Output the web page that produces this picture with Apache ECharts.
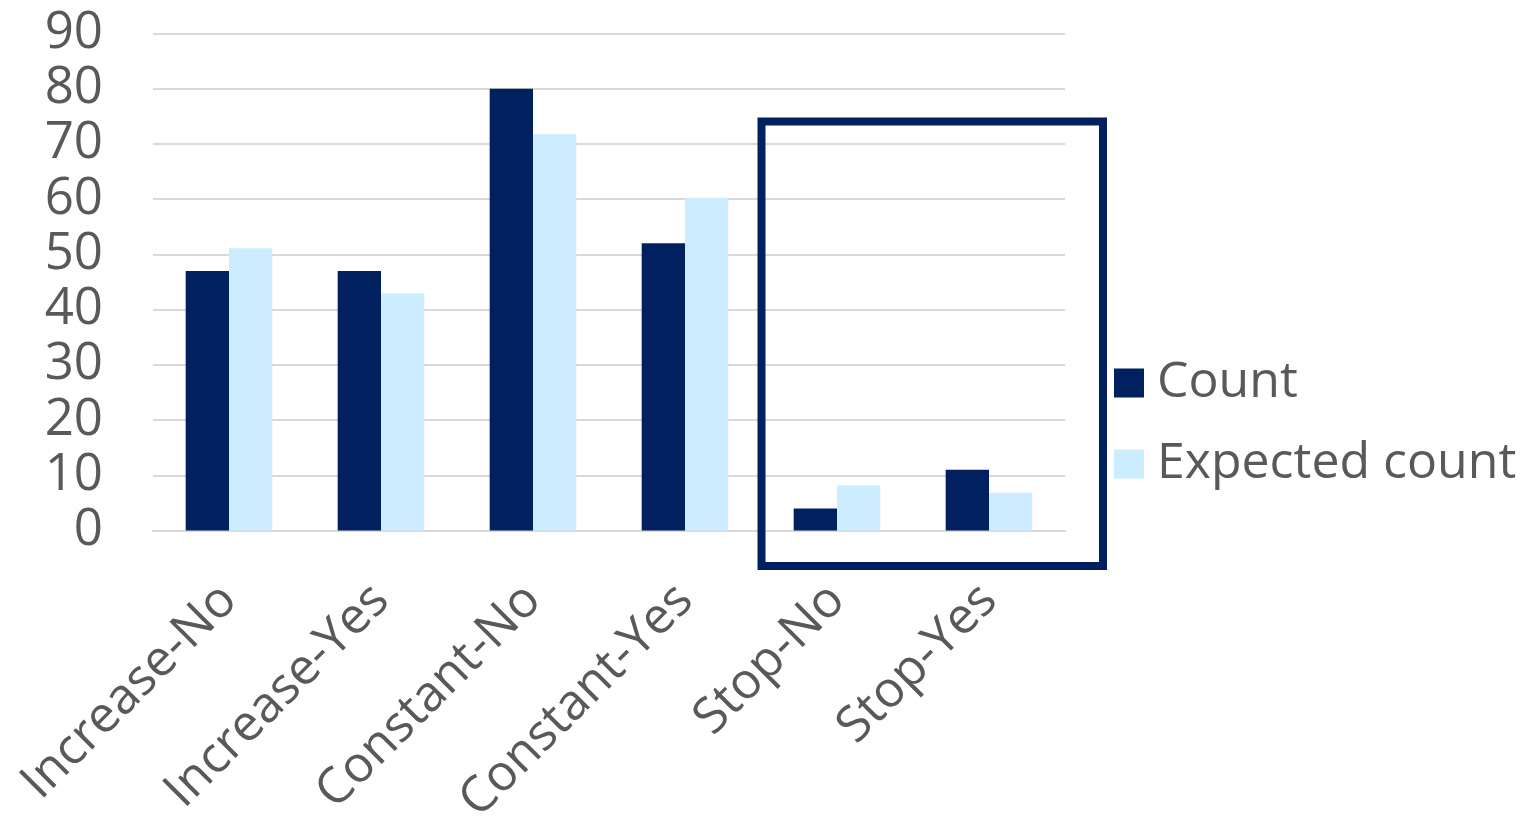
<!DOCTYPE html>
<html>
<head>
<meta charset="utf-8">
<script src="https://cdn.jsdelivr.net/npm/echarts@6/dist/echarts.min.js"></script>
<style>html,body{margin:0;padding:0;background:#fff;}#c{width:1525px;height:818px;}</style>
</head>
<body>
<div id="c"></div>
<script>
const categories = ['Increase-No','Increase-Yes','Constant-No','Constant-Yes','Stop-No','Stop-Yes'];
const countValues = [47, 47, 80, 52, 4, 11];
const expectedValues = [51.1, 42.9, 71.75, 60.25, 8.15, 6.85];
const yTicks = {min: 0, max: 90, interval: 10};

const chart = echarts.init(document.getElementById('c'), null, {renderer: 'canvas'});
const FONT = 'Open Sans';
const TXT = '#595959';
chart.setOption({
  animation: false,
  backgroundColor: '#ffffff',
  grid: {left: 153, right: 460, top: 33.5, bottom: 287.5, containLabel: false, outerBoundsMode: 'none'},
  legend: {
    orient: 'vertical',
    left: 1114, top: 358, padding: 0,
    itemWidth: 30, itemHeight: 29, itemGap: 31,
    icon: 'rect',
    textStyle: {fontFamily: FONT, fontSize: 50, color: TXT, padding: [0,0,0,8]},
    data: ['Count', 'Expected count']
  },
  xAxis: {
    type: 'category',
    data: categories,
    axisLine: {show: true, lineStyle: {color: '#D9D9D9', width: 2}},
    axisTick: {show: false},
    axisLabel: {rotate: 45, interval: 0, margin: 62, fontFamily: FONT, fontSize: 50, color: TXT}
  },
  yAxis: {
    type: 'value',
    min: yTicks.min, max: yTicks.max, interval: yTicks.interval,
    axisLine: {show: false},
    axisTick: {show: false},
    splitLine: {lineStyle: {color: '#D9D9D9', width: 2}},
    axisLabel: {margin: 50, fontFamily: FONT, fontSize: 51, color: TXT}
  },
  series: [
    {name: 'Count', type: 'bar', data: countValues, barGap: '0%', barCategoryGap: '43%',
     itemStyle: {color: '#002060'}},
    {name: 'Expected count', type: 'bar', data: expectedValues,
     itemStyle: {color: '#CCECFF'}}
  ],
  graphic: [{
    type: 'rect', z: 100,
    shape: {x: 761.5, y: 121.5, width: 341.5, height: 444.5},
    style: {fill: 'none', stroke: '#002060', lineWidth: 8}
  }]
});
</script>
</body>
</html>
